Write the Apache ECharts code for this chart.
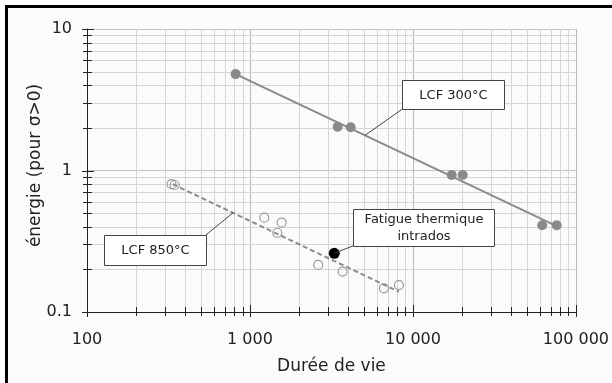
<!DOCTYPE html>
<html><head><meta charset="utf-8">
<script src="https://cdn.jsdelivr.net/npm/echarts@6/dist/echarts.min.js"></script>
<style>html,body{margin:0;padding:0;background:#fff}#c{width:612px;height:383px}</style>
</head><body><div id="c"></div>
<script>
// ---- data ----
const xTickValues = [100, 1000, 10000, 100000];
const xTickLabels = ['100', '1 000', '10 000', '100 000'];
const yTickValues = [0.1, 1, 10];
const yTickLabels = ['0.1', '1', '10'];
const xMinorValues = [200,300,400,500,600,700,800,900,2000,3000,4000,5000,6000,7000,8000,9000,20000,30000,40000,50000,60000,70000,80000,90000];
const yMinorValues = [0.2,0.3,0.4,0.5,0.6,0.7,0.8,0.9,2,3,4,5,6,7,8,9];

const lcf300 = [[817,4.8],[3450,2.04],[4150,2.02],[17300,0.93],[20200,0.93],[62100,0.41],[76200,0.41]];
const lcf300Fit = [[817,4.8],[76200,0.405]];
const lcf850 = [[330,0.80],[345,0.79],[1224,0.464],[1564,0.428],[1471,0.363],[2624,0.215],[3704,0.193],[6637,0.147],[8204,0.155]];
const lcf850Fit = [[336,0.80],[8200,0.139]];
const fatigue = [[3290,0.26]];

const FONT = '"DejaVu Sans", sans-serif';
const chart = echarts.init(document.getElementById('c'), null, {renderer:'canvas'});

function lab(values, labels) {
  return function (v) {
    for (let i = 0; i < values.length; i++) {
      if (Math.abs(v - values[i]) / values[i] < 1e-6) return labels[i];
    }
    return '';
  };
}

function xGrid(major) {
  return function (params, api) {
    const cs = params.coordSys;
    const p = api.coord([api.value(0), 1]);
    const x = Math.round(p[0]) + 0.5;
    const b = cs.y + cs.height;
    const tin = major ? 7 : 5, tout = major ? 5 : 4;
    const ch = [];
    if (!major) ch.push({type:'line', shape:{x1:x,y1:cs.y,x2:x,y2:b}, style:{stroke:'#d6d6d6', lineWidth:1}});
    ch.push({type:'line', shape:{x1:x,y1:b-tin,x2:x,y2:b+tout}, style:{stroke:'#222', lineWidth:1}});
    return {type:'group', children: ch};
  };
}
function yGrid(major) {
  return function (params, api) {
    const cs = params.coordSys;
    const p = api.coord([1000, api.value(1)]);
    const y = Math.round(p[1]) + 0.5;
    const l = cs.x;
    const tin = major ? 7 : 5, tout = major ? 5 : 4;
    const ch = [];
    if (!major) ch.push({type:'line', shape:{x1:l,y1:y,x2:cs.x+cs.width,y2:y}, style:{stroke:'#d6d6d6', lineWidth:1}});
    ch.push({type:'line', shape:{x1:l-tout,y1:y,x2:l+tin,y2:y}, style:{stroke:'#222', lineWidth:1}});
    return {type:'group', children: ch};
  };
}

const option = {
  animation: false,
  backgroundColor: '#fff',
  grid: {left: 87, top: 29, right: 36, bottom: 71},
  xAxis: {
    type: 'log', logBase: 10, min: 100, max: 100000,
    name: 'Durée de vie', nameLocation: 'middle', nameGap: 46, nameMoveOverlap: false,
    nameTextStyle: {fontFamily: FONT, fontSize: 17, color: '#222'},
    axisLine: {show: true, lineStyle: {color: '#222', width: 1}},
    axisTick: {show: false},
    axisLabel: {formatter: lab(xTickValues, xTickLabels), fontFamily: FONT, fontSize: 16, color: '#222', margin: 20},
    splitLine: {show: true, lineStyle: {color: '#b8b8b8', width: 1}},
    minorTick: {show: false}, minorSplitLine: {show: false}
  },
  yAxis: {
    type: 'log', logBase: 10, min: 0.1, max: 10,
    name: 'énergie (pour σ>0)', nameLocation: 'middle', nameGap: 43, nameMoveOverlap: false,
    nameTextStyle: {fontFamily: FONT, fontSize: 17, color: '#222', padding: [0, 0, 0, 10]},
    axisLine: {show: true, lineStyle: {color: '#222', width: 1}},
    axisTick: {show: false},
    axisLabel: {formatter: lab(yTickValues, yTickLabels), fontFamily: FONT, fontSize: 16, color: '#222', margin: 15},
    splitLine: {show: true, lineStyle: {color: '#c4c4c4', width: 1}},
    minorTick: {show: false}, minorSplitLine: {show: false}
  },
  series: [
    {type:'custom', silent:true, clip:false, z:1, renderItem: xGrid(false), data: xMinorValues.map(v => [v, 1])},
    {type:'custom', silent:true, clip:false, z:1, renderItem: yGrid(false), data: yMinorValues.map(v => [1000, v])},
    {type:'custom', silent:true, clip:false, z:1, renderItem: xGrid(true), data: xTickValues.map(v => [v, 1])},
    {type:'custom', silent:true, clip:false, z:1, renderItem: yGrid(true), data: yTickValues.map(v => [1000, v])},
    {name:'LCF 300 fit', type:'line', data: lcf300Fit, symbol:'none', silent:true, z:2,
      lineStyle:{color:'#8a8a8a', width:2}},
    {name:'LCF 850 fit', type:'line', data: lcf850Fit, symbol:'none', silent:true, z:2,
      lineStyle:{color:'#8c8c8c', width:2, type:[5,3]}},
    {name:'LCF 300°C', type:'scatter', data: lcf300, symbol:'circle', symbolSize:10, z:3,
      itemStyle:{color:'#8a8a8a', opacity:1}},
    {name:'LCF 850°C', type:'scatter', data: lcf850, symbol:'circle', symbolSize:9, z:3,
      itemStyle:{color:'rgba(0,0,0,0)', borderColor:'#9a9a9a', borderWidth:1.2, opacity:1}},
    {name:'Fatigue thermique intrados', type:'scatter', data: fatigue, symbol:'circle', symbolSize:11, z:4,
      itemStyle:{color:'#000', opacity:1}}
  ]
};
chart.setOption(option);

function px(pt) { return chart.convertToPixel({xAxisIndex:0, yAxisIndex:0}, pt); }
function onFit(fit, x) {
  const a = fit[0], b = fit[1];
  const t = (Math.log10(x) - Math.log10(a[0])) / (Math.log10(b[0]) - Math.log10(a[0]));
  return [x, Math.pow(10, Math.log10(a[1]) + t * (Math.log10(b[1]) - Math.log10(a[1])))];
}
function annotation(anchor, box, corner, text) {
  const A = px(anchor);
  const bx = Math.round(A[0] + box[0]) + 0.5, by = Math.round(A[1] + box[1]) + 0.5;
  return [
    {type:'line', z:5, shape:{x1:A[0], y1:A[1], x2:A[0]+corner[0], y2:A[1]+corner[1]}, style:{stroke:'#444', lineWidth:1}},
    {type:'rect', z:6, shape:{x:bx, y:by, width:box[2], height:box[3]}, style:{fill:'#fff', stroke:'#444', lineWidth:1}},
    {type:'text', z:7, style:{x: bx + box[2]/2, y: by + box[3]/2 + 0.5, text: text, align:'center', verticalAlign:'middle',
      font: '13px ' + FONT, fill:'#222', lineHeight: 17}}
  ];
}

const g = [
  {type:'rect', z:-10, silent:true, shape:{x:6.5, y:6.5, width:640, height:420}, style:{fill:'#fbfbfb', stroke:'#000', lineWidth:3}}
];
g.push(...annotation(onFit(lcf300Fit, 5080), [37, -55, 102, 29], [37, -26], 'LCF 300°C'));
g.push(...annotation(onFit(lcf850Fit, 787), [-129, 22, 102, 30], [-27, 22], 'LCF 850°C'));
g.push(...annotation(fatigue[0], [19, -44, 141, 37], [19, -7.5], 'Fatigue thermique\nintrados'));
chart.setOption({graphic: g});
</script>
</body></html>
